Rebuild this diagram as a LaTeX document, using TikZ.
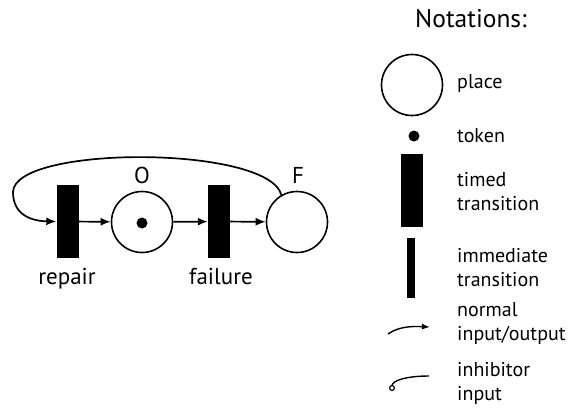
\documentclass[tikz,border=0pt]{standalone}
\usepackage{fontspec}
\setmainfont{PT Sans}
\usetikzlibrary{arrows.meta}
\begin{document}
\begin{tikzpicture}
[x=1pt,y=-1pt,
  placedecorate/.style={shape=circle,minimum size=61pt,inner sep=0pt,draw,line width=1.6pt},%
  tokendecorate/.style={shape=circle,minimum size=11pt,inner sep=0pt,fill=black},%
  timeddecorate/.style={shape=rectangle,minimum width=22pt,minimum height=73pt,inner sep=0pt,fill=black},%
  immeddecorate/.style={shape=rectangle,minimum width=8pt,minimum height=60pt,inner sep=0pt,fill=black},%
  linedecorate/.style={-{Latex[length=10pt,width=8pt]},line width=1.7pt},%
  smalldecorate/.style={-{Latex[length=8pt,width=6pt]},line width=1.4pt},%
  inhibdecorate/.style={-{Circle[open,length=6pt,width=6pt,line width=1.2pt]},line width=1.4pt},%
  textdecorate/.style={font=\fontsize{20}{23.5}\selectfont,align=left,anchor=base west,inner sep=0pt},%
  labeldecorate/.style={font=\fontsize{23}{27}\selectfont,anchor=base,inner sep=0pt}]
\useasboundingbox (0,0) rectangle (569,408);
%% places and transitions
\foreach \nodename/\x/\y in {O/142/222, F/297/222, legplace/412/85} {
  \node (\nodename) at (\x,\y) [placedecorate] {};
}
\foreach \nodename/\x/\y in {repair/67.5/221.5, failure/219/221.5, legtimed/411.5/190.5} {
  \node (\nodename) at (\x,\y) [timeddecorate] {};
}
\node (tokO) at (142,223) [tokendecorate] {};
\node (legtoken) at (414,136) [tokendecorate] {};
\node (legimmed) at (411,268) [immeddecorate] {};
%% labels
\node (lblO) at (142,183) [labeldecorate] {O};
\node (lblF) at (298,183) [labeldecorate] {F};
\node (lblrepair) at (67,284) [labeldecorate] {repair};
\node (lblfailure) at (221,284) [labeldecorate] {failure};
\node (notations) at (471,27) [labeldecorate,font=\fontsize{25.5}{30}\selectfont] {Notations:};
\node (txtplace) at (457,88) [textdecorate] {place};
\node (txttoken) at (457,142) [textdecorate] {token};
\node (txttimed) at (457,210) [textdecorate] {timed\\transition};
\node (txtimmed) at (457,286) [textdecorate] {immediate\\transition};
\node (txtnormal) at (457,340) [textdecorate] {normal\\input/output};
\node (txtinhib) at (457,400) [textdecorate] {inhibitor\\input};
%% arcs
\path
\foreach \startnode/\endnode in {repair/O, O/failure, failure/F} {
  (\startnode) edge[linedecorate] (\endnode)
};
\coordinate (loopleft) at (13,192);
\draw[linedecorate] (F.120) .. controls (268,145) and (14,145) .. (loopleft)
  .. controls (13,214) and (30,221) .. (repair.west);
%% legend arcs
\coordinate (nstart) at (388,334);
\coordinate (nend) at (430,327);
\draw[smalldecorate] (nstart) .. controls (398,327) and (410,326) .. (nend);
\coordinate (istart) at (429,376);
\coordinate (iend) at (392,391);
\draw[inhibdecorate] (istart) .. controls (405,376) and (392,381) .. (iend);
\end{tikzpicture}
\end{document}
